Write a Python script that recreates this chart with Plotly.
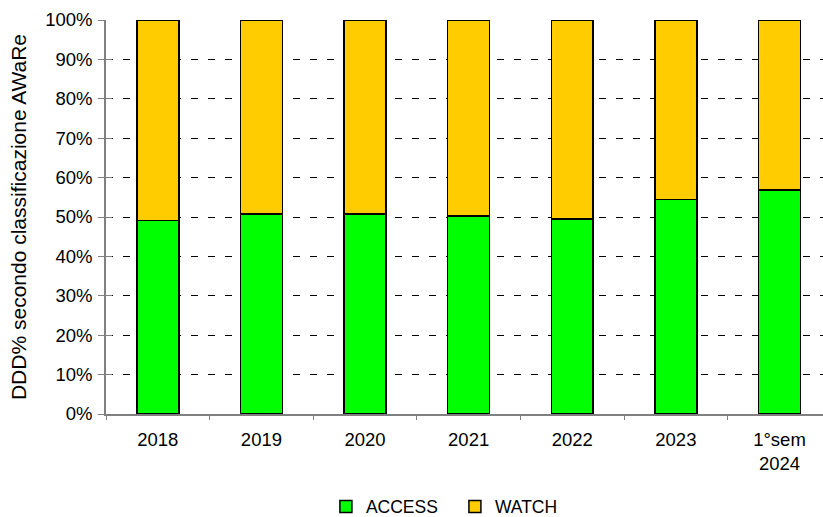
import plotly.graph_objects as go

# DDD share by AWaRe category, per period
periods = ["2018", "2019", "2020", "2021", "2022", "2023", "1°sem<br>2024"]
access = [49.1, 50.8, 50.7, 50.3, 49.5, 54.5, 56.9]
watch = [round(100 - a, 1) for a in access]

y_ticks = list(range(0, 101, 10))
y_labels = [f"{v}%" for v in y_ticks]

FONT = "Liberation Sans, Arial, sans-serif"

fig = go.Figure()
fig.add_trace(go.Bar(
    x=periods, y=access, name="ACCESS",
    marker=dict(color="#00FF00", line=dict(color="#000000", width=1.5)),
    width=0.405,
))
fig.add_trace(go.Bar(
    x=periods, y=watch, name="WATCH",
    marker=dict(color="#FFCC00", line=dict(color="#000000", width=1.5)),
    width=0.405,
))
# invisible helper trace so the mirrored y axis draws its inner ticks
fig.add_trace(go.Scatter(x=[periods[0]], y=[0], yaxis="y2", mode="markers",
                         marker=dict(opacity=0), showlegend=False, hoverinfo="skip"))

fig.update_layout(
    barmode="stack",
    width=823, height=517,
    margin=dict(l=106, r=0, t=20, b=103),
    paper_bgcolor="white", plot_bgcolor="white",
    font=dict(family=FONT, size=18.5, color="#000000"),
    xaxis=dict(
        range=[-0.5, 6.42],
        showline=True, linecolor="#808080", linewidth=1.5,
        ticks="outside", ticklen=4, tickcolor="#808080",
        tickson="boundaries", showgrid=False,
        tickfont=dict(size=18.5),
        ticklabelstandoff=8,
    ),
    yaxis=dict(
        range=[0, 100], tickvals=y_ticks, ticktext=y_labels,
        showline=True, linecolor="#808080", linewidth=1.5,
        ticks="outside", ticklen=6, tickcolor="#808080",
        showgrid=True, gridcolor="#000000", gridwidth=1, griddash="7px,10px",
        zeroline=False,
        tickfont=dict(size=18.5),
        ticklabelstandoff=2,
        title=dict(text="DDD% secondo classificazione AWaRe", font=dict(size=21), standoff=13),
    ),
    yaxis2=dict(
        range=[0, 100], tickvals=y_ticks, overlaying="y", side="left",
        showticklabels=False, ticks="inside", ticklen=6, tickcolor="#808080",
        showgrid=False, zeroline=False, showline=False,
    ),
    legend=dict(
        orientation="h", xref="container", yref="container",
        x=0.396, xanchor="left", y=0.02, yanchor="middle",
        font=dict(size=17.5), traceorder="normal", entrywidth=84,
    ),
)

fig.write_html("out.html")
